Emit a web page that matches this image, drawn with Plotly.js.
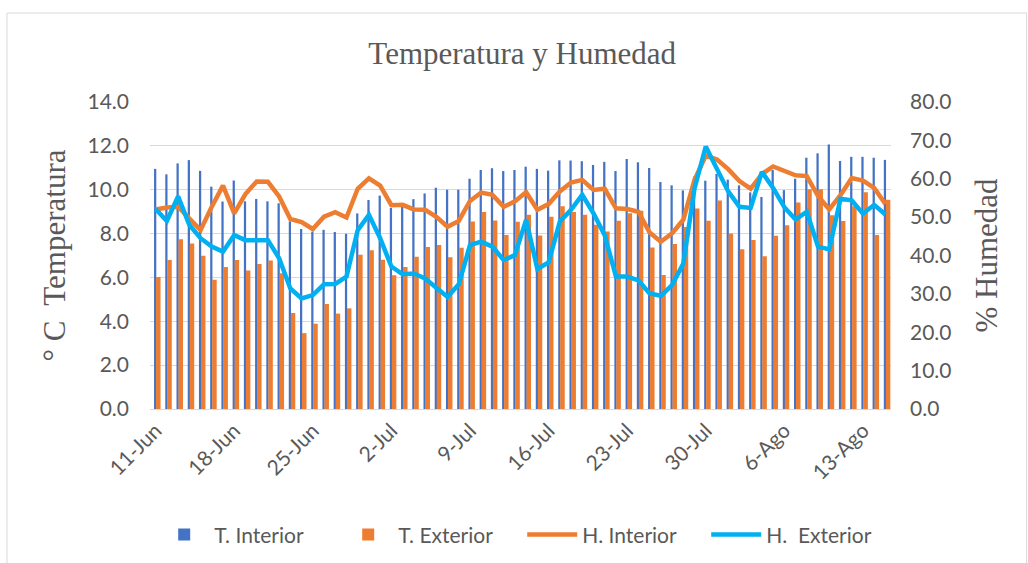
<!DOCTYPE html>
<html>
<head>
<meta charset="utf-8">
<script src="https://cdn.plot.ly/plotly-3.0.1.min.js"></script>
<style>html,body{margin:0;padding:0;background:#fff;}#chart{width:1028px;height:563px;}</style>
</head>
<body>
<div id="chart"></div>
<script>
const dates = ["11-Jun","12-Jun","13-Jun","14-Jun","15-Jun","16-Jun","17-Jun","18-Jun","19-Jun","20-Jun",
"21-Jun","22-Jun","23-Jun","24-Jun","25-Jun","26-Jun","27-Jun","28-Jun","29-Jun","30-Jun",
"1-Jul","2-Jul","3-Jul","4-Jul","5-Jul","6-Jul","7-Jul","8-Jul","9-Jul","10-Jul",
"11-Jul","12-Jul","13-Jul","14-Jul","15-Jul","16-Jul","17-Jul","18-Jul","19-Jul","20-Jul",
"21-Jul","22-Jul","23-Jul","24-Jul","25-Jul","26-Jul","27-Jul","28-Jul","29-Jul","30-Jul",
"31-Jul","1-Ago","2-Ago","3-Ago","4-Ago","5-Ago","6-Ago","7-Ago","8-Ago","9-Ago",
"10-Ago","11-Ago","12-Ago","13-Ago","14-Ago","15-Ago"];

const tickDates = ["11-Jun","18-Jun","25-Jun","2-Jul","9-Jul","16-Jul","23-Jul","30-Jul","6-Ago","13-Ago"];

const tInterior = [10.95,10.70,11.20,11.35,10.86,10.14,9.46,10.42,9.47,9.58,
9.47,9.38,8.56,8.21,8.09,8.17,8.07,7.99,8.92,9.53,
9.73,9.17,9.39,9.57,9.83,10.09,10.00,10.00,10.50,10.90,
10.98,10.85,10.90,11.05,10.95,10.87,11.34,11.33,11.30,11.13,
11.27,10.85,11.40,11.25,10.99,10.35,10.20,9.97,10.60,10.41,
10.72,10.46,10.20,9.88,9.67,10.90,9.98,10.50,11.46,11.66,
12.06,11.31,11.50,11.50,11.46,11.36];

const tExterior = [6.02,6.80,7.74,7.55,6.99,5.89,6.48,6.80,6.32,6.61,
6.77,6.19,4.38,3.46,3.89,4.79,4.35,4.59,7.03,7.24,
6.81,6.10,6.48,6.94,7.39,7.48,6.92,7.35,8.55,8.98,
8.60,7.94,8.54,8.86,7.91,8.77,9.25,8.98,8.86,8.40,
8.09,8.58,8.93,9.04,7.36,6.11,7.53,8.30,9.14,8.59,
9.51,8.00,7.28,7.71,6.97,7.90,8.38,9.42,10.02,10.02,
8.83,8.57,9.25,9.89,7.93,9.54];

const hInterior = [52.0,52.5,52.7,49.7,46.6,52.7,58.2,51.0,56.0,59.3,
59.2,55.4,49.5,48.7,46.9,50.1,51.3,49.9,57.4,60.1,
58.2,53.1,53.2,52.0,51.9,50.1,47.5,49.0,54.2,56.4,
55.8,52.7,54.1,56.5,51.9,53.4,56.7,59.0,59.7,57.1,
57.4,52.3,52.1,51.4,46.0,43.6,45.8,49.3,59.7,66.0,
65.0,62.5,59.4,57.4,61.2,63.2,62.0,60.9,60.7,55.5,
52.0,55.7,60.2,59.5,57.6,53.4];

const hExterior = [52.1,49.0,55.4,48.0,44.5,42.3,41.0,45.3,44.0,43.9,
44.0,39.3,31.4,28.8,29.7,32.5,32.6,34.5,46.6,50.6,
44.5,37.1,35.1,35.3,34.0,31.6,29.2,32.5,42.7,43.6,
42.3,38.8,40.1,49.3,36.5,38.2,48.8,51.9,55.8,51.0,
45.3,34.5,34.5,33.5,30.1,29.5,32.3,37.9,57.5,68.4,
62.3,56.7,52.7,52.4,61.8,57.6,52.6,49.4,51.4,42.3,
41.6,54.8,54.4,50.9,53.2,50.7];

const grey = '#595959';
const tickFont = {family: 'Lato, "Liberation Sans", sans-serif', size: 21, color: grey};
const serif = '"Liberation Serif", "Times New Roman", serif';

const traces = [
  {type: 'bar', name: 'T. Interior', x: dates, y: tInterior, width: 0.2, offset: -0.14,
   marker: {color: '#4472C4'}, yaxis: 'y'},
  {type: 'bar', name: 'T. Exterior', x: dates, y: tExterior, width: 0.4, offset: 0.04,
   marker: {color: '#ED7D31'}, yaxis: 'y'},
  {type: 'scatter', mode: 'lines', name: 'H. Interior', x: dates, y: hInterior, yaxis: 'y2',
   line: {color: '#ED7D31', width: 4.5}},
  {type: 'scatter', mode: 'lines', name: 'H.  Exterior', x: dates, y: hExterior, yaxis: 'y2',
   line: {color: '#00B0F0', width: 4.5}}
];

const layout = {
  width: 1028, height: 563,
  margin: {l: 150, r: 137, t: 102, b: 154, pad: 0},
  paper_bgcolor: '#ffffff', plot_bgcolor: '#ffffff',
  barmode: 'overlay',
  showlegend: true,
  title: {text: 'Temperatura y Humedad', font: {family: serif, size: 31, color: grey},
          x: 0.508, xanchor: 'center', y: 0.905, yanchor: 'middle'},
  xaxis: {type: 'category', categoryorder: 'array', categoryarray: dates,
          range: [-0.5, dates.length - 0.5], tickmode: 'array', tickvals: tickDates, ticktext: tickDates,
          tickangle: -45, tickfont: tickFont, showgrid: false, zeroline: false,
          showline: true, linecolor: '#d9d9d9', linewidth: 1, ticks: '', fixedrange: true},
  yaxis: {range: [0, 14], dtick: 2, tick0: 0, tickformat: '.1f', tickfont: tickFont,
          showgrid: true, gridcolor: '#d9d9d9', gridwidth: 1, zeroline: false, showline: false,
          ticks: '', ticklabelstandoff: 20,
          title: {text: '° C  Temperatura', font: {family: serif, size: 31, color: grey}, standoff: 12}},
  yaxis2: {range: [0, 80], dtick: 10, tick0: 0, tickformat: '.1f', tickfont: tickFont,
           overlaying: 'y', side: 'right', showgrid: false, zeroline: false, showline: false,
           ticks: '', ticklabelstandoff: 18,
           title: {text: '% Humedad', font: {family: serif, size: 31, color: grey}, standoff: 24}},
  legend: {orientation: 'h', xref: 'container', yref: 'container', x: 0.15, y: 0.05,
           xanchor: 'left', yanchor: 'middle', font: {family: 'Lato, "Liberation Sans", sans-serif', size: 21, color: grey},
           itemwidth: 50, entrywidth: 119, entrywidthmode: 'pixels', traceorder: 'normal', itemclick: false},
  shapes: [{type: 'rect', xref: 'paper', yref: 'paper', x0: -0.193, x1: 1.183, y0: -0.52, y1: 1.29,
            line: {color: '#d9d9d9', width: 1}, fillcolor: 'rgba(0,0,0,0)', layer: 'below'}]
};

Plotly.newPlot('chart', traces, layout, {displayModeBar: false, staticPlot: true});
</script>
</body>
</html>
